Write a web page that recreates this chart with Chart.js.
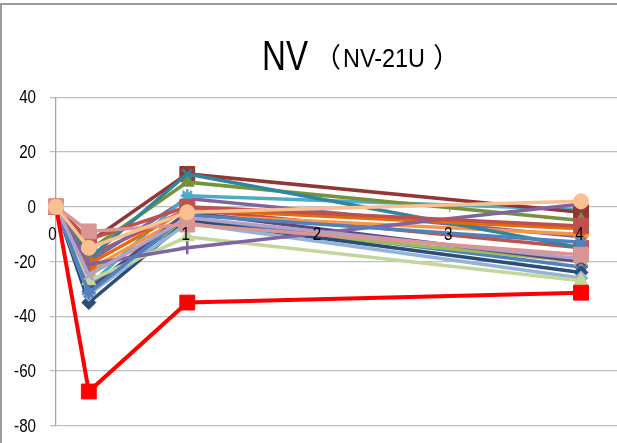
<!DOCTYPE html>
<html>
<head>
<meta charset="utf-8">
<script src="https://cdn.jsdelivr.net/npm/chart.js@4/dist/chart.umd.min.js"></script>
<style>
  html, body { margin: 0; padding: 0; background: #ffffff; }
  #wrap { width: 617px; height: 443px; }
</style>
</head>
<body>
<div id="wrap"><canvas id="c" width="617" height="443"></canvas></div>
<script>
// Sampling positions along the horizontal axis
const timePoints = [0, 0.25, 1, 4];

// Axis tick values
const yTicks = [40, 20, 0, -20, -40, -60, -80];
const xTicks = [0, 1, 2, 3, 4];

// Series values (one array per subject)
const s01 = [0, -31, -4, -22];
const s02 = [0, -18, -1, -15];
const s03 = [0, -24, -6, -20];
const s04 = [0, -20, 3, -11];
const s05 = [0, -29, 4, -1];
const s06 = [0, -23, -3, -10];
const s07 = [0, -35, -5, -24];
const s08 = [0, -13, 12, -2];
const s09 = [0, -16, 9, -5];
const s10 = [0, -30, -2, -20];
const s11 = [0, -19, 12, -15];
const s12 = [0, -21, -1, -8];
const s13 = [0, -32, -6, -26];
const s14 = [0, -9, -6.5, -17.5];
const s15 = [0, -27, -11, -27];
const s16 = [0, -21, -15, 1];
const s17 = [0, -31.5, -3, -13];
const s18 = [0, -25, -4, -19];
const s19 = [0, -12, 0, -7];
const sRed = [0, -67.5, -35, -31.4];
const s20 = [0, -15, -2, 2];

const seriesList = [
  { v: s01, c: '#4F81BD', p: 'rectRot' },
  { v: s02, c: '#C0504D', p: 'rect' },
  { v: s03, c: '#9BBB59', p: 'triangle' },
  { v: s04, c: '#8064A2', p: 'crossRot' },
  { v: s05, c: '#4BACC6', p: 'star' },
  { v: s06, c: '#F79646', p: 'circle' },
  { v: s07, c: '#2C4D75', p: 'rectRot' },
  { v: s08, c: '#943634', p: 'rect' },
  { v: s09, c: '#76923C', p: 'triangle' },
  { v: s10, c: '#5F497A', p: 'crossRot' },
  { v: s11, c: '#31859C', p: 'crossRot' },
  { v: s12, c: '#E36C09', p: 'circle' },
  { v: s13, c: '#95B3D7', p: 'rectRot' },
  { v: s15, c: '#C3D69B', p: 'triangle' },
  { v: s16, c: '#8064A2', p: 'cross' },
  { v: s17, c: '#4F81BD', p: 'star' },
  { v: s18, c: '#B2A1C7', p: 'crossRot' },
  { v: s19, c: '#C0504D', p: 'rect' },
  { v: sRed, c: '#FF0000', p: 'rect' },
  { v: s14, c: '#D99694', p: 'rect' },
  { v: s20, c: '#FAC090', p: 'circle' }
];

function markerRadius(style) {
  if (style === 'rect') return 10.5;
  if (style === 'circle') return 7.5;
  if (style === 'rectRot') return 7;
  if (style === 'triangle') return 8;
  return 6.5;
}

const datasets = seriesList.map((s, i) => {
  const lineOnly = ['cross', 'crossRot', 'star'].includes(s.p);
  return {
    data: s.v.map((y, k) => ({ x: timePoints[k], y })),
    borderColor: s.c,
    backgroundColor: s.c,
    borderWidth: s.c === '#FF0000' ? 4 : 3.5,
    pointStyle: s.p,
    pointRadius: markerRadius(s.p),
    pointBackgroundColor: s.c,
    pointBorderColor: s.c,
    pointBorderWidth: lineOnly ? 2.5 : 1,
    tension: 0,
    clip: false,
    order: -i
  };
});

const SANS = "'Liberation Sans', Arial, sans-serif";
const CJK = "'Noto Sans CJK JP', sans-serif";

// Draw text condensed horizontally so that it fits a given width
function narrowText(ctx, text, x, y, font, width, align) {
  ctx.save();
  ctx.font = font;
  const w = ctx.measureText(text).width;
  const k = width ? width / w : 0.82;
  const drawn = w * k;
  let left = x;
  if (align === 'right') left = x - drawn;
  else if (align === 'center') left = x - drawn / 2;
  ctx.translate(left, y);
  ctx.scale(k, 1);
  ctx.textAlign = 'left';
  ctx.fillText(text, 0, 0);
  ctx.restore();
}

// Title, frame lines and axis labels
const decor = {
  id: 'decor',
  afterDraw(chart) {
    const ctx = chart.ctx;
    const xs = chart.scales.x, ys = chart.scales.y;
    ctx.save();
    ctx.strokeStyle = '#9a9a9a';
    ctx.lineWidth = 2;
    ctx.beginPath();
    ctx.moveTo(0, 4); ctx.lineTo(617, 4);
    ctx.moveTo(1, 4); ctx.lineTo(1, 443);
    ctx.stroke();

    ctx.fillStyle = '#000000';
    ctx.textBaseline = 'alphabetic';
    narrowText(ctx, 'NV', 262, 70, '42px ' + SANS, 46);
    ctx.font = '27px ' + CJK;
    ctx.fillText('（', 314, 67);
    narrowText(ctx, 'NV-21U', 343, 67, '26px ' + SANS, 82);
    ctx.font = '27px ' + CJK;
    ctx.fillText('）', 433, 67);

    // value axis labels
    ctx.textBaseline = 'middle';
    yTicks.forEach(v => {
      narrowText(ctx, String(v), 36, ys.getPixelForValue(v) + 1, '18.5px ' + SANS, null, 'right');
    });
    // horizontal axis labels, hung below the zero line
    ctx.textBaseline = 'top';
    const y0 = ys.getPixelForValue(0);
    xTicks.forEach(v => {
      const px = xs.getPixelForValue(v) - (v === 0 ? 3.5 : 1.5);
      narrowText(ctx, String(v), px, y0 + 19, '18.5px ' + SANS, null, 'center');
    });
    ctx.restore();
  }
};

new Chart(document.getElementById('c'), {
  type: 'line',
  data: { datasets },
  options: {
    responsive: false,
    animation: false,
    layout: { autoPadding: false, padding: { top: 97.3, bottom: 17.3, left: 0, right: 0 } },
    plugins: { legend: { display: false }, tooltip: { enabled: false }, title: { display: false } },
    scales: {
      x: {
        type: 'linear',
        position: { y: 0 },
        min: 0,
        max: 4.274,
        afterBuildTicks: (scale) => { scale.ticks = xTicks.map(v => ({ value: v })); },
        afterFit: (scale) => { scale.height = 0; },
        ticks: { display: false },
        grid: { drawOnChartArea: false, drawTicks: true, tickLength: 5, color: '#A6A6A6', lineWidth: 1.3 },
        border: { display: false }
      },
      y: {
        type: 'linear',
        min: -80,
        max: 40,
        afterBuildTicks: (scale) => { scale.ticks = yTicks.map(v => ({ value: v })); },
        afterFit: (scale) => { scale.width = 56; },
        ticks: { display: false },
        grid: { color: '#BFBFBF', lineWidth: 1.3, tickLength: 6 },
        border: { display: true, color: '#A6A6A6', width: 1.3 }
      }
    }
  },
  plugins: [decor]
});
</script>
</body>
</html>
